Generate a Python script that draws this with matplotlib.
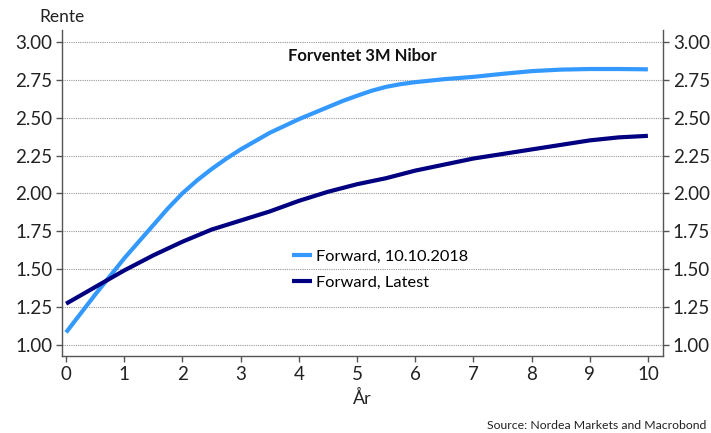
import matplotlib.pyplot as plt
import numpy as np

plt.rcParams["font.family"] = ["Lato", "DejaVu Sans"]

# years ahead and forward rates
years_a = [0, 0.5, 1, 1.5, 1.75, 2, 2.25, 2.5, 2.75, 3, 3.5, 4, 4.5, 4.75, 5, 5.25, 5.5, 5.75, 6,
           6.5, 7, 7.5, 8, 8.5, 9, 9.5, 10]
fwd_2018 = [1.08, 1.33, 1.57, 1.79, 1.90, 2.00, 2.085, 2.16, 2.228, 2.29, 2.40, 2.49, 2.57, 2.61,
            2.645, 2.678, 2.704, 2.722, 2.735, 2.755, 2.77, 2.79, 2.808, 2.818, 2.822, 2.822, 2.82]
years_b = [0, 0.5, 1, 1.5, 2, 2.5, 3, 3.5, 4, 4.5, 5, 5.5, 6, 6.5, 7, 7.5, 8, 8.5, 9, 9.5, 10]
fwd_latest = [1.27, 1.38, 1.49, 1.59, 1.68, 1.76, 1.82, 1.88, 1.95, 2.01, 2.06, 2.10, 2.15, 2.19,
              2.23, 2.26, 2.29, 2.32, 2.35, 2.37, 2.38]

labels = ["Forward, 10.10.2018", "Forward, Latest"]
colors = ["#3399ff", "#000080"]
yticks = [1.00, 1.25, 1.50, 1.75, 2.00, 2.25, 2.50, 2.75, 3.00]
xticks = list(range(0, 11))

fig = plt.figure(figsize=(7.11, 4.33), dpi=100)
ax = fig.add_axes([0.0872, 0.1778, 0.8453, 0.7529])

for xs, ys, lab, col in zip([years_a, years_b], [fwd_2018, fwd_latest], labels, colors):
	ax.plot(xs, ys, color=col, lw=3.0, label=lab, solid_capstyle="butt", solid_joinstyle="round")

ax.set_xlim(-0.07, 10.26)
ax.set_ylim(0.924, 3.08)
ax.set_yticks(yticks)
ax.set_yticklabels([f"{v:.2f}" for v in yticks])
ax.set_xticks(xticks)
ax.grid(axis="y", linestyle=(0, (1, 1)), color="#999999", lw=0.8)
ax.set_axisbelow(True)

ax.spines["top"].set_visible(False)
for s in ["left", "right", "bottom"]:
	ax.spines[s].set_color("#555555")
	ax.spines[s].set_linewidth(1.0)
ax.tick_params(axis="both", colors="#222222", labelsize=13.5, length=4, width=1, direction="out")
ax.tick_params(axis="y", right=True, labelright=True, pad=3)
ax.tick_params(axis="both", color="#555555")

ax.set_xlabel("År", fontsize=13, color="#222222", labelpad=5)
fig.text(0.087, 0.96, "Rente", ha="center", va="center", fontsize=12.5, color="#222222")
ax.text(0.5, 0.92, "Forventet 3M Nibor", transform=ax.transAxes, ha="center", va="center",
        fontsize=12, fontweight="bold", color="#111111")
fig.text(0.994, 0.018, "Source: Nordea Markets and Macrobond", ha="right", va="center",
         fontsize=8.8, color="#222222")

ax.legend(loc="center left", bbox_to_anchor=(0.358, 0.265), frameon=False, fontsize=11.8,
          handlelength=1.2, handletextpad=0.3, labelspacing=0.68)

fig.savefig("out.png", dpi=100)
